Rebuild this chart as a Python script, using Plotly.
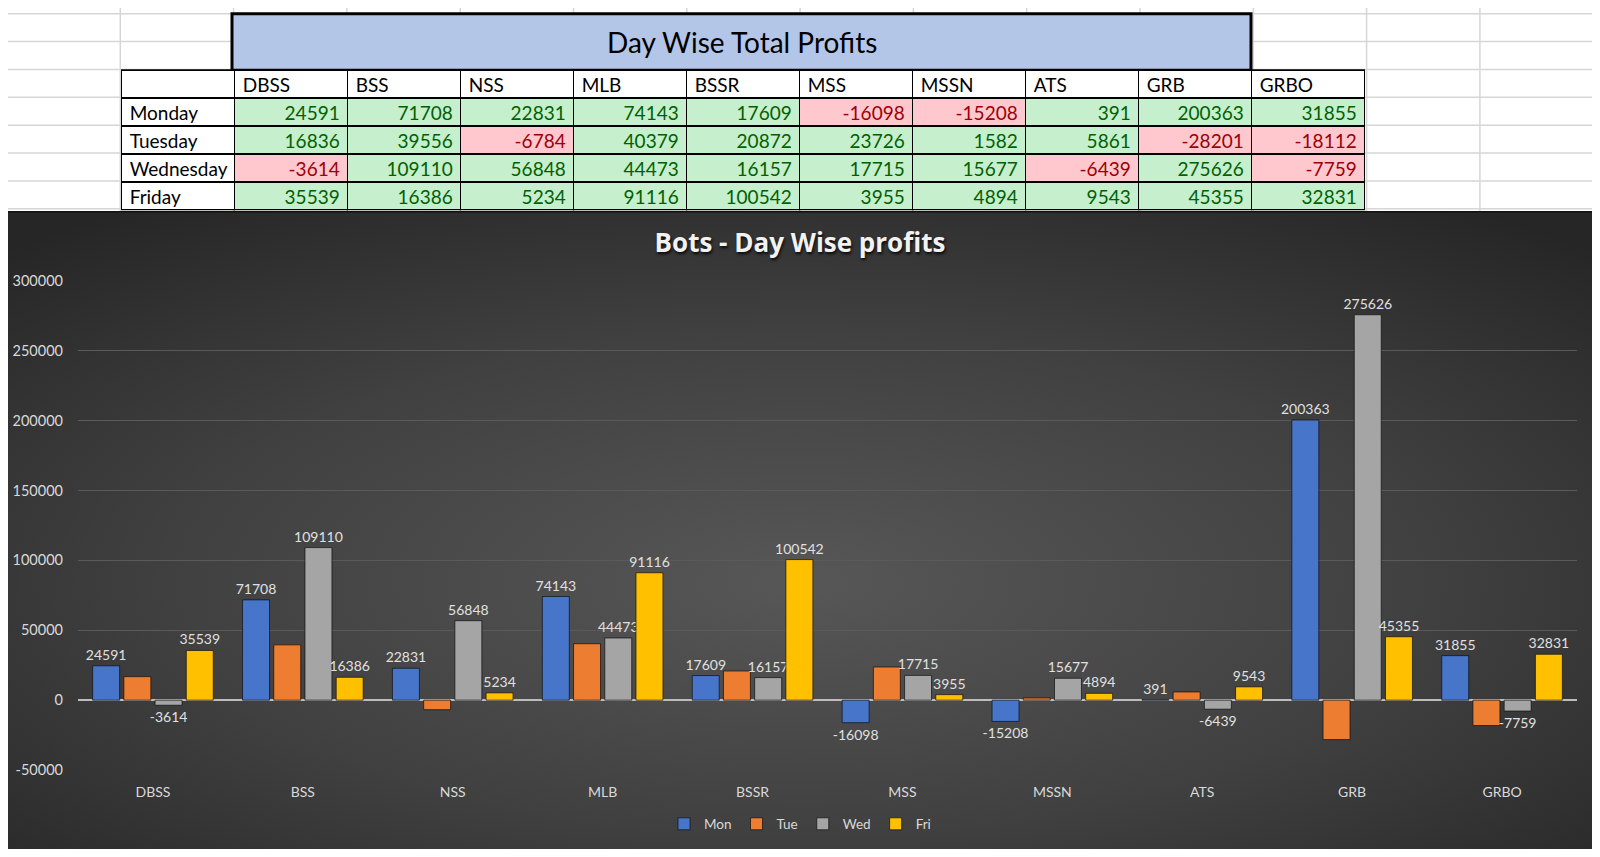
import base64
import plotly.graph_objects as go

# ---------------- data ----------------
bots = ['DBSS', 'BSS', 'NSS', 'MLB', 'BSSR', 'MSS', 'MSSN', 'ATS', 'GRB', 'GRBO']
day_names = ['Monday', 'Tuesday', 'Wednesday', 'Friday']
series_names = ['Mon', 'Tue', 'Wed', 'Fri']

mon = [24591, 71708, 22831, 74143, 17609, -16098, -15208, 391, 200363, 31855]
tue = [16836, 39556, -6784, 40379, 20872, 23726, 1582, 5861, -28201, -18112]
wed = [-3614, 109110, 56848, 44473, 16157, 17715, 15677, -6439, 275626, -7759]
fri = [35539, 16386, 5234, 91116, 100542, 3955, 4894, 9543, 45355, 32831]

y_ticks = [-50000, 0, 50000, 100000, 150000, 200000, 250000, 300000]

series = [mon, tue, wed, fri]
bar_colors = ['#4775c9', '#ed7d31', '#a5a5a5', '#ffc000']
show_labels = [True, False, True, True]   # Excel chart has no labels on the Tue series

# page pixel -> paper fraction (where the figure really lands in the window)
OX, OY, FW, FH = 8, 15, 1584, 825


def fx(px):
    return (px - OX) / FW


def fy(py):
    return 1 - (py - OY) / FH


# chart box in page pixels
CH_X0, CH_X1, CH_Y0, CH_Y1 = 3, 1596, 210, 849

fig = go.Figure()

# ---------------- bar chart ----------------
for name, vals, col, lab in zip(series_names, series, bar_colors, show_labels):
    fig.add_trace(go.Bar(
        x=bots, y=vals, name=name,
        marker=dict(color=col, line=dict(color='rgba(15,15,15,0.7)', width=1)),
        text=[str(v) for v in vals] if lab else None,
        textposition='outside' if lab else 'none',
        textangle=0, constraintext='none', cliponaxis=False,
        textfont=dict(family='Lato', size=14, color='#e0e0e0'),
    ))

# ---------------- spreadsheet table ----------------
table_cols = [day_names] + [[m, t, w, f] for m, t, w, f in zip(mon, tue, wed, fri)]
fill_cols = [['white'] * 4] + [['#c6efce' if v >= 0 else '#ffc7ce' for v in c] for c in table_cols[1:]]
font_cols = [['black'] * 4] + [['#006100' if v >= 0 else '#9c0006' for v in c] for c in table_cols[1:]]

fig.add_trace(go.Table(
    domain=dict(x=[fx(121.7), fx(1365.5)], y=[fy(209), fy(68.3)]),
    columnwidth=[1] * 11,
    header=dict(values=[''] + bots, fill_color='white', align='left', height=28,
                line=dict(color='black', width=1.5),
                font=dict(family='Lato', size=19, color='black')),
    cells=dict(values=table_cols, fill_color=fill_cols, height=28,
               align=['left'] + ['right'] * 10,
               line=dict(color='black', width=1.5),
               font=dict(family='Lato', size=19, color=font_cols)),
))

# ---------------- spreadsheet grid + chart frame ----------------
shapes = []
grid = dict(color='#d6d6d6', width=1.5)
col_w, row_h = 113.3, 27.9
for k in range(15):
    x = fx(7 + col_w * k)
    shapes.append(dict(type='line', xref='paper', yref='paper', x0=x, x1=x, y0=fy(0), y1=fy(CH_Y0), line=grid, layer='below'))
    shapes.append(dict(type='line', xref='paper', yref='paper', x0=x, x1=x, y0=fy(CH_Y1), y1=fy(870), line=grid, layer='below'))
for k in range(30):
    y = 11.7 + row_h * k
    if y < CH_Y0:
        shapes.append(dict(type='line', xref='paper', yref='paper', x0=fx(0), x1=fx(1600), y0=fy(y), y1=fy(y), line=grid, layer='below'))
    else:
        for a, b in [(0, CH_X0), (CH_X1, 1600)]:
            shapes.append(dict(type='line', xref='paper', yref='paper', x0=fx(a), x1=fx(b), y0=fy(y), y1=fy(y), line=grid, layer='below'))

# title box above the table
shapes.append(dict(type='rect', xref='paper', yref='paper', x0=fx(232), x1=fx(1251), y0=fy(68.3), y1=fy(11.7),
                   fillcolor='#b4c6e7', line=dict(color='black', width=3), layer='below'))
# chart frame
shapes.append(dict(type='rect', xref='paper', yref='paper', x0=fx(CH_X0), x1=fx(CH_X1), y0=fy(CH_Y1), y1=fy(CH_Y0),
                   line=dict(color='#111111', width=1.5), layer='below'))

# dark radial gradient behind the chart
svg = ("<svg xmlns='http://www.w3.org/2000/svg' width='1593' height='639' preserveAspectRatio='none'>"
       "<defs><radialGradient id='g' cx='50%' cy='58%' r='72%'>"
       "<stop offset='0' stop-color='#575757'/><stop offset='0.55' stop-color='#404040'/>"
       "<stop offset='1' stop-color='#262626'/></radialGradient></defs>"
       "<rect width='100%' height='100%' fill='url(#g)'/></svg>")
bg_src = 'data:image/svg+xml;base64,' + base64.b64encode(svg.encode()).decode()

fig.update_layout(
    margin=dict(l=0, r=0, t=0, b=0),
    paper_bgcolor='white', plot_bgcolor='rgba(0,0,0,0)',
    barmode='group', bargap=0.167, bargroupgap=0.136,
    shapes=shapes,
    images=[dict(source=bg_src, xref='paper', yref='paper', x=fx(CH_X0), y=fy(CH_Y0),
                 sizex=fx(CH_X1) - fx(CH_X0), sizey=fy(CH_Y0) - fy(CH_Y1),
                 xanchor='left', yanchor='top', sizing='stretch', layer='below')],
    title=dict(text='Bots - Day Wise profits', x=fx(800), xanchor='center', y=fy(241), yanchor='middle',
               xref='paper', yref='paper',
               font=dict(family='Open Sans', size=26, weight=700, color='#f2f2f2',
                         shadow='1px 2px 3px rgba(0,0,0,0.85)')),
    xaxis=dict(domain=[fx(78), fx(1577)], showgrid=False, zeroline=False, showline=False,
               ticks='', ticklabelstandoff=12, tickfont=dict(family='Lato', size=14, color='#d9d9d9')),
    yaxis=dict(domain=[fy(769), fy(279)], range=[-50000, 300000],
               tickvals=y_ticks, ticktext=[str(v) for v in y_ticks],
               showgrid=True, gridcolor='#5a5a5a', gridwidth=1.2,
               zeroline=True, zerolinecolor='#bdbdbd', zerolinewidth=1.5,
               ticks='', ticklabelstandoff=14, showline=False,
               tickfont=dict(family='Lato', size=14.5, color='#d9d9d9')),
    legend=dict(orientation='h', x=fx(800), xanchor='center', y=fy(823), yanchor='middle',
                bgcolor='rgba(0,0,0,0)', itemwidth=30,
                font=dict(family='Lato', size=13.5, color='#d9d9d9')),
    annotations=[dict(text='Day Wise Total Profits', xref='paper', yref='paper',
                      x=fx(741.5), y=fy(40), xanchor='center', yanchor='middle', showarrow=False,
                      font=dict(family='Lato', size=28, color='black'))],
)

fig.write_html('out.html')
